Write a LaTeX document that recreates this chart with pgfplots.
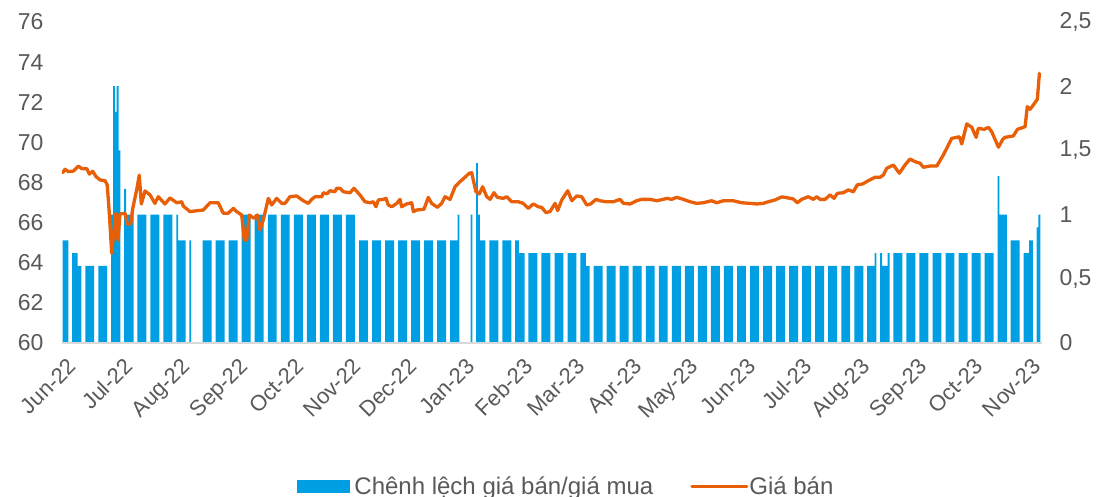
\documentclass[border=0pt]{standalone}
\usepackage{pgfplots}
\pgfplotsset{compat=1.18}
\usepackage{fontspec}
\setmainfont{Liberation Sans}
\definecolor{barblue}{RGB}{0,159,227}
\definecolor{lineorange}{RGB}{232,95,8}
\definecolor{txtgray}{RGB}{89,89,89}
\definecolor{axgray}{RGB}{217,217,217}
\newcommand{\bigf}{\fontsize{23}{27}\selectfont}
\newcommand{\xf}{\fontsize{22}{26}\selectfont}
\newcommand{\legf}{\fontsize{24}{28}\selectfont}

\pgfplotstableread{
x y
14.9 0.6
21.9 0.6
42.9 1.0
49.9 1.0
56.9 1.0
77.9 0.8
84.9 0.8
91.9 0.8
98.9 1.0
105.9 1.0
112.9 1.0
119.9 1.0
126.9 1.0
133.9 1.0
140.9 1.0
147.9 1.0
154.9 1.0
161.9 0.8
168.9 0.8
175.9 0.8
182.9 0.8
189.9 0.8
196.9 0.8
203.9 0.8
231.9 0.8
238.9 0.8
252.9 0.7
259.9 0.7
266.9 0.7
273.9 0.7
287.9 0.6
294.9 0.6
301.9 0.6
308.9 0.6
315.9 0.6
322.9 0.6
329.9 0.6
336.9 0.6
343.9 0.6
350.9 0.6
357.9 0.6
364.9 0.6
371.9 0.6
378.9 0.6
385.9 0.6
392.9 0.6
399.9 0.6
406.9 0.6
413.9 0.6
420.9 0.6
427.9 0.6
448.9 0.7
455.9 0.7
462.9 0.7
469.9 0.7
476.9 0.7
483.9 0.7
490.9 0.7
497.9 0.7
511.9 0.8
}\weekly

\pgfplotstableread{
x y
0.9 0.8
1.9 0.8
2.9 0.8
5.9 0.7
6.9 0.7
7.9 0.7
8.9 0.6
9.9 0.6
26.9 1.0
27.9 2.0
28.9 1.8
29.9 2.0
30.9 1.5
33.9 1.2
34.9 1.0
35.9 1.0
36.9 1.0
37.9 1.0
61.9 1.0
62.9 0.8
63.9 0.8
64.9 0.8
65.9 0.8
68.9 0.8
208.9 0.8
209.9 0.8
210.9 0.8
211.9 0.8
212.9 1.0
219.9 1.0
222.9 1.4
223.9 1.0
224.9 0.8
225.9 0.8
226.9 0.8
243.9 0.8
244.9 0.8
245.9 0.7
246.9 0.7
247.9 0.7
278.9 0.7
279.9 0.7
280.9 0.7
281.9 0.6
282.9 0.6
432.9 0.6
433.9 0.6
434.9 0.6
435.9 0.6
436.9 0.7
439.9 0.7
440.9 0.6
441.9 0.6
442.9 0.6
443.9 0.7
502.9 1.3
503.9 1.0
504.9 1.0
505.9 1.0
506.9 1.0
516.9 0.7
517.9 0.7
518.9 0.7
519.9 0.8
520.9 0.8
523.9 0.9
524.9 1.0
}\daily

\pgfplotstableread{
x y
0.4 68.49
1.6 68.66
3.4 68.54
6.1 68.57
8.8 68.82
10.6 68.69
13.3 68.69
14.7 68.42
16.5 68.56
18.3 68.29
20.4 68.13
23.1 68.09
24.3 67.88
25.4 66.47
26.7 64.47
28.8 66.47
30.1 65.13
31.1 66.43
33.8 66.47
35.1 65.93
36.9 65.93
38.0 66.71
40.1 67.63
41.5 68.37
42.6 66.93
44.6 67.58
47.3 67.38
49.9 66.96
51.7 67.29
55.3 66.93
58.0 67.23
61.6 66.99
64.3 67.04
65.1 66.83
68.7 66.55
75.9 66.63
79.5 66.99
83.9 66.99
86.6 66.47
89.3 66.47
92.0 66.71
93.8 66.55
96.5 66.38
97.9 65.13
99.2 65.13
100.6 66.38
103.1 66.22
104.9 66.38
106.3 65.63
108.1 66.13
110.8 67.21
112.6 66.88
115.3 67.21
118.0 66.96
119.8 66.96
122.4 67.29
126.0 67.33
129.6 67.09
132.3 66.96
134.1 67.16
135.9 67.29
139.5 67.29
140.3 67.49
142.2 67.43
143.9 67.59
146.6 67.54
147.5 67.71
149.3 67.71
151.1 67.54
154.7 67.49
156.8 67.71
160.0 67.38
162.7 67.04
165.4 66.99
167.2 67.04
168.6 66.79
169.9 67.13
172.6 67.16
174.0 67.21
175.2 66.88
177.1 66.79
179.8 66.96
181.5 67.16
182.4 66.79
185.1 66.93
187.8 66.99
188.7 66.55
190.5 66.63
194.4 66.67
196.7 67.26
198.5 66.96
201.6 66.76
203.9 66.96
205.7 67.29
208.4 67.16
211.1 67.79
213.7 68.04
216.4 68.26
218.7 68.46
220.0 68.49
222.3 67.54
224.1 67.43
225.9 67.79
228.1 67.29
229.9 67.16
232.0 67.49
233.8 67.26
237.0 67.21
238.8 67.29
241.5 67.04
245.1 67.04
247.7 66.96
250.4 66.71
253.1 66.93
255.8 66.79
257.6 66.76
259.9 66.50
262.1 66.55
264.8 66.96
266.2 66.60
268.4 67.13
271.6 67.59
273.8 67.09
276.4 67.33
279.1 67.29
281.8 66.88
283.9 66.93
286.8 67.16
288.9 67.09
292.5 67.04
296.1 67.04
299.7 67.16
301.5 66.96
305.1 66.93
308.6 67.09
311.3 67.16
315.8 67.16
319.4 67.09
322.9 67.16
324.8 67.21
327.4 67.16
330.1 67.26
333.7 67.16
337.3 67.04
340.9 66.96
344.4 66.99
348.9 67.09
351.6 66.99
355.2 67.09
360.5 67.09
365.0 66.99
369.5 66.96
373.1 66.93
376.6 66.96
379.3 67.04
382.9 67.13
386.5 67.28
388.3 67.26
392.7 67.18
394.9 66.99
397.2 67.16
400.8 67.29
403.5 67.16
405.3 67.29
407.1 67.16
409.8 67.16
412.5 67.38
414.6 67.21
416.4 67.46
419.6 67.49
422.3 67.63
425.0 67.54
427.1 67.88
430.0 67.93
433.0 68.09
436.6 68.26
439.3 68.26
441.1 68.37
442.9 68.71
446.5 68.87
449.7 68.46
452.7 68.87
455.4 69.17
458.1 69.04
460.8 68.96
462.6 68.76
466.2 68.82
469.8 68.82
473.3 69.37
477.8 70.20
480.5 70.25
481.9 70.28
483.2 69.92
485.9 70.92
488.6 70.75
490.9 70.25
492.1 70.70
495.2 70.65
497.5 70.75
499.3 70.53
502.9 69.76
505.2 70.15
506.4 70.25
510.9 70.32
513.1 70.65
517.2 70.78
518.4 71.78
519.9 71.65
521.6 71.86
523.8 72.15
524.9 73.44
}\price

\begin{document}
\begin{tikzpicture}
\useasboundingbox (-62pt,-154pt) rectangle (1035pt,343pt);
% right axis: spread bars
\begin{axis}[
  at={(0pt,0pt)}, anchor=south west,
  width=980pt, height=321pt, scale only axis,
  xmin=0, xmax=526.3,
  ymin=0, ymax=2.5,
  axis x line=none,
  axis y line*=right,
  y axis line style={draw=none},
  ytick={0,0.5,1,1.5,2,2.5},
  major tick length=0pt,
  /pgf/number format/use comma,
  /pgf/number format/assume math mode=true,
  yticklabel style={font=\bigf, text=txtgray, xshift=14pt},
]
\addplot[ybar, bar shift=0pt, bar width=4.8, fill=barblue, draw=none] table[x=x,y=y] {\weekly};
\addplot[ybar, bar shift=0pt, bar width=1.0, fill=barblue, draw=none] table[x=x,y=y] {\daily};
\end{axis}
% left axis: price line
\begin{axis}[
  at={(0pt,0pt)}, anchor=south west,
  width=980pt, height=321pt, scale only axis,
  xmin=0, xmax=526.3,
  ymin=60, ymax=76,
  axis x line*=bottom,
  axis y line*=left,
  y axis line style={draw=none},
  x axis line style={draw=axgray, line width=1.6pt, -},
  ytick={60,62,64,66,68,70,72,74,76},
  xtick={0.9,30.9,61.9,92.9,122.9,153.9,183.9,214.9,245.9,273.9,304.9,334.9,365.9,395.9,426.9,457.9,487.9,518.9},
  xticklabels={Jun-22,Jul-22,Aug-22,Sep-22,Oct-22,Nov-22,Dec-22,Jan-23,Feb-23,Mar-23,Apr-23,May-23,Jun-23,Jul-23,Aug-23,Sep-23,Oct-23,Nov-23},
  major tick length=0pt,
  /pgf/number format/assume math mode=true,
  yticklabel style={font=\bigf, text=txtgray, xshift=-15pt},
  xticklabel shift=9pt,
  xticklabel style={font=\xf, text=txtgray, xshift=3pt, rotate=45, anchor=north east},
  legend style={at={(0.514,-0.4455)}, anchor=center, draw=none, fill=none,
    font=\legf, text=txtgray, legend columns=2,
    nodes={inner sep=1pt},
    /tikz/every even column/.append style={column sep=36pt}},
]
\addlegendimage{legend image code/.code={\fill[barblue] (0pt,-6pt) rectangle (52pt,6pt); \path (56pt,0pt);}}
\addlegendentry{Chênh lệch giá bán/giá mua}
\addplot[lineorange, line width=3.3pt, line join=round, line cap=round, mark=none,
  legend image code/.code={\draw[lineorange, line width=3pt] (0pt,0pt) -- (55pt,0pt);}] table[x=x,y=y] {\price};
\addlegendentry{Giá bán}
\end{axis}
\end{tikzpicture}
\end{document}
